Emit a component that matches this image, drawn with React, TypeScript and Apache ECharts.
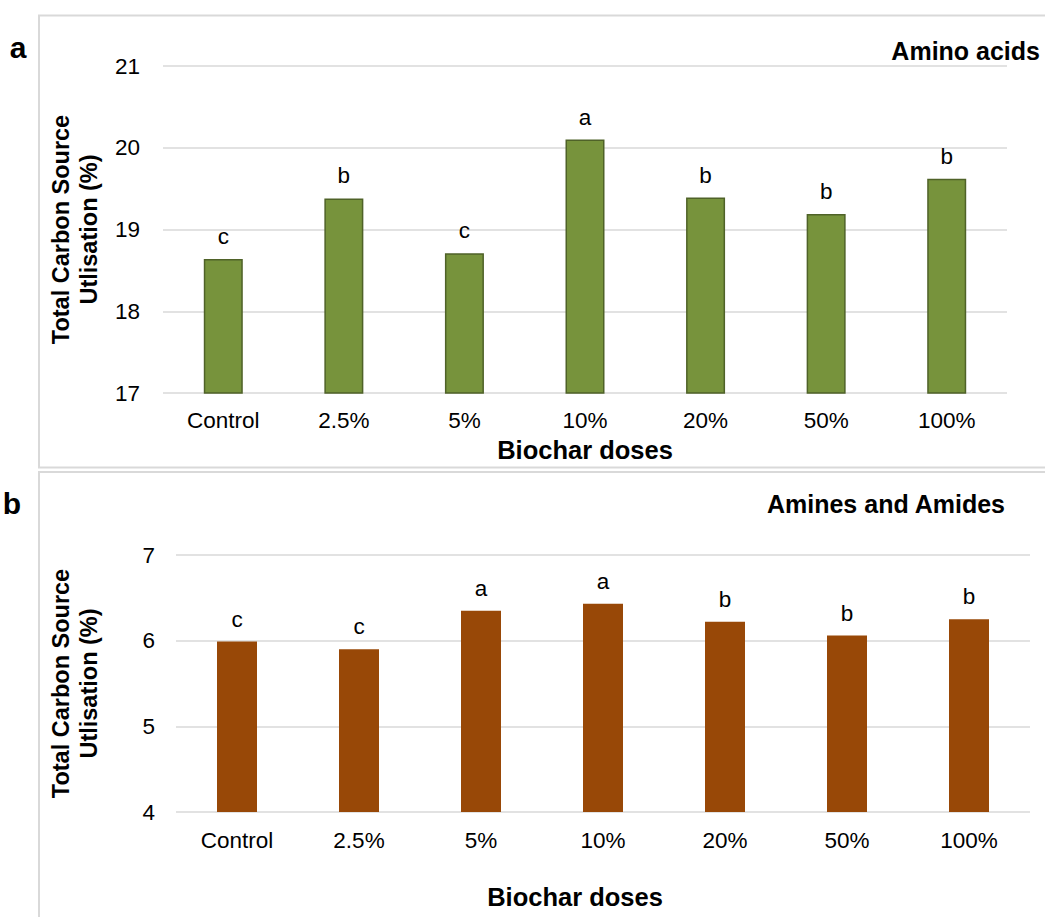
import React, { useEffect, useRef } from "react";
import * as echarts from "echarts";

const categories = ["Control", "2.5%", "5%", "10%", "20%", "50%", "100%"];
const aminoAcids = [18.64, 19.38, 18.71, 20.1, 19.39, 19.19, 19.62];
const aminoLetters = ["c", "b", "c", "a", "b", "b", "b"];
const aminesAmides = [5.99, 5.9, 6.35, 6.43, 6.22, 6.06, 6.25];
const aminesLetters = ["c", "c", "a", "a", "b", "b", "b"];

const FONT = "Liberation Sans, Arial, sans-serif";

export default function App() {
  const ref = useRef<HTMLDivElement>(null);
  useEffect(() => {
    if (!ref.current) return;
    const chart = echarts.init(ref.current, null, { renderer: "svg" });
    const yName = "Total Carbon Source\nUtlisation (%)";
    const axisLabel = { color: "#000", fontSize: 22.5, fontFamily: FONT };
    const nameStyle = {
      color: "#000",
      fontSize: 23.5,
      fontWeight: "bold",
      fontFamily: FONT,
      lineHeight: 28,
    };
    const option: any = {
      animation: false,
      backgroundColor: "#fff",
      textStyle: { fontFamily: FONT },
      grid: [
        { left: 163, right: 38, top: 66, height: 327 },
        { left: 176, right: 15, top: 555, height: 257 },
      ],
      xAxis: [
        {
          type: "category",
          gridIndex: 0,
          data: categories,
          axisLine: { show: false },
          axisTick: { show: false },
          axisLabel: { ...axisLabel, margin: 16 },
        },
        {
          type: "category",
          gridIndex: 1,
          data: categories,
          axisLine: { show: false },
          axisTick: { show: false },
          axisLabel: { ...axisLabel, margin: 17 },
        },
      ],
      yAxis: [
        {
          type: "value",
          gridIndex: 0,
          min: 17,
          max: 21,
          interval: 1,
          axisLine: { show: false },
          axisTick: { show: false },
          axisLabel: { ...axisLabel, margin: 23 },
          splitLine: { lineStyle: { color: "#d9d9d9", width: 1.5 } },
          name: yName,
          nameLocation: "middle",
          nameRotate: 90,
          nameGap: 60,
          nameTextStyle: nameStyle,
        },
        {
          type: "value",
          gridIndex: 1,
          min: 4,
          max: 7,
          interval: 1,
          axisLine: { show: false },
          axisTick: { show: false },
          axisLabel: { ...axisLabel, margin: 21 },
          splitLine: { lineStyle: { color: "#d9d9d9", width: 1.5 } },
          name: yName,
          nameLocation: "middle",
          nameRotate: 90,
          nameGap: 73,
          nameTextStyle: nameStyle,
        },
      ],
      series: [
        {
          type: "bar",
          xAxisIndex: 0,
          yAxisIndex: 0,
          data: aminoAcids,
          barWidth: 39,
          itemStyle: { color: "#77933C", borderColor: "#4F6228", borderWidth: 1.5 },
          label: {
            show: true,
            position: "top",
            distance: 11,
            color: "#000",
            fontSize: 22.5,
            fontFamily: FONT,
            formatter: (p: any) => aminoLetters[p.dataIndex],
          },
        },
        {
          type: "bar",
          xAxisIndex: 1,
          yAxisIndex: 1,
          data: aminesAmides,
          barWidth: 40,
          itemStyle: { color: "#984807" },
          label: {
            show: true,
            position: "top",
            distance: 11,
            color: "#000",
            fontSize: 22.5,
            fontFamily: FONT,
            formatter: (p: any) => aminesLetters[p.dataIndex],
          },
        },
      ],
      graphic: [
        {
          type: "rect",
          shape: { x: 39, y: 15.5, width: 1020, height: 452 },
          style: { fill: "none", stroke: "#d9d9d9", lineWidth: 2 },
          z: -1,
        },
        {
          type: "rect",
          shape: { x: 39, y: 472, width: 1020, height: 460 },
          style: { fill: "none", stroke: "#d9d9d9", lineWidth: 2 },
          z: -1,
        },
        {
          type: "text",
          x: 18,
          y: 47,
          style: {
            text: "a",
            fill: "#000",
            font: "bold 30px " + FONT,
            align: "center",
            verticalAlign: "middle",
          },
        },
        {
          type: "text",
          x: 12,
          y: 503,
          style: {
            text: "b",
            fill: "#000",
            font: "bold 30px " + FONT,
            align: "center",
            verticalAlign: "middle",
          },
        },
        {
          type: "text",
          x: 1040,
          y: 51,
          style: {
            text: "Amino acids",
            fill: "#000",
            font: "bold 25px " + FONT,
            align: "right",
            verticalAlign: "middle",
          },
        },
        {
          type: "text",
          x: 1005,
          y: 504,
          style: {
            text: "Amines and Amides",
            fill: "#000",
            font: "bold 25px " + FONT,
            align: "right",
            verticalAlign: "middle",
          },
        },
        {
          type: "text",
          x: 585,
          y: 450,
          style: {
            text: "Biochar doses",
            fill: "#000",
            font: "bold 25.5px " + FONT,
            align: "center",
            verticalAlign: "middle",
          },
        },
        {
          type: "text",
          x: 575,
          y: 897,
          style: {
            text: "Biochar doses",
            fill: "#000",
            font: "bold 25.5px " + FONT,
            align: "center",
            verticalAlign: "middle",
          },
        },
      ],
    };
    chart.setOption(option);
    return () => chart.dispose();
  }, []);
  return (
    <div
      ref={ref}
      style={{ position: "absolute", left: 0, top: 0, width: 1045, height: 917 }}
    />
  );
}
